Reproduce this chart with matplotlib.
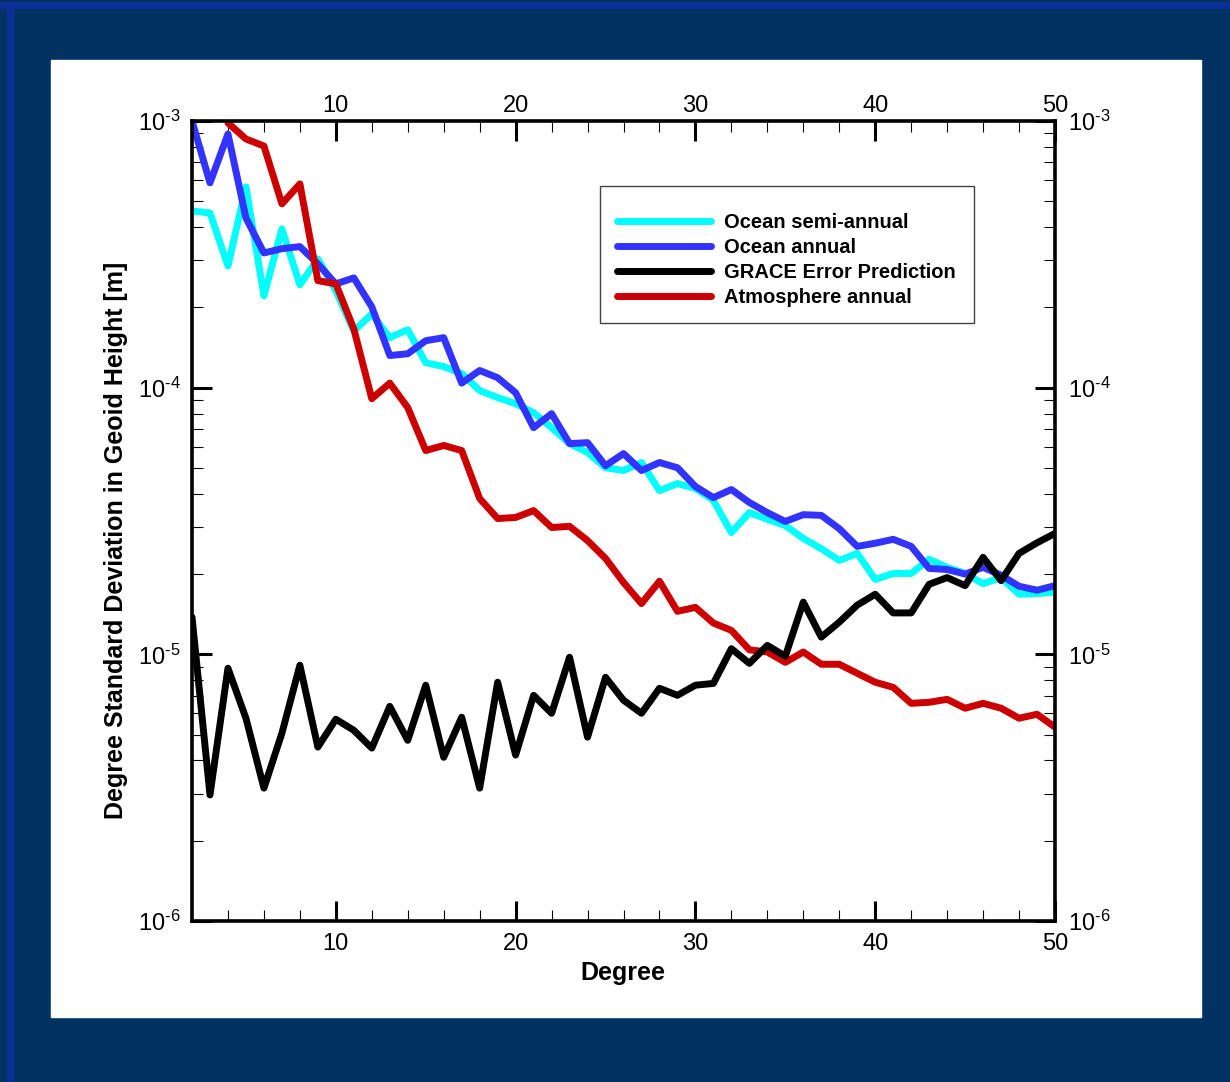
import numpy as np
import matplotlib.pyplot as plt
from matplotlib.patches import Rectangle
from matplotlib.ticker import MultipleLocator, FixedLocator, FuncFormatter, NullFormatter, NullLocator

plt.rcParams['font.family'] = ['Liberation Sans', 'DejaVu Sans']
plt.rcParams['mathtext.fontset'] = 'custom'
plt.rcParams['mathtext.rm'] = 'Liberation Sans'

# degree standard deviations in geoid height [m]
degree = list(range(2, 51))
ocean_semi = [4.60e-4, 4.52e-4, 2.86e-4, 5.66e-4, 2.21e-4, 3.94e-4, 2.43e-4, 3.04e-4, 2.31e-4,
              1.63e-4, 1.89e-4, 1.54e-4, 1.65e-4, 1.24e-4, 1.20e-4, 1.13e-4, 9.75e-5, 9.18e-5,
              8.71e-5, 8.06e-5, 7.08e-5, 6.17e-5, 5.71e-5, 5.01e-5, 4.89e-5, 5.24e-5, 4.11e-5,
              4.37e-5, 4.19e-5, 3.78e-5, 2.86e-5, 3.40e-5, 3.21e-5, 3.04e-5, 2.72e-5, 2.49e-5,
              2.25e-5, 2.39e-5, 1.91e-5, 2.01e-5, 2.01e-5, 2.27e-5, 2.12e-5, 2.01e-5, 1.84e-5,
              1.94e-5, 1.68e-5, 1.69e-5, 1.71e-5]
ocean_annual = [1.00e-3, 5.86e-4, 8.94e-4, 4.33e-4, 3.20e-4, 3.32e-4, 3.38e-4, 2.91e-4, 2.45e-4,
                2.58e-4, 2.01e-4, 1.32e-4, 1.34e-4, 1.50e-4, 1.54e-4, 1.04e-4, 1.16e-4, 1.09e-4,
                9.57e-5, 7.08e-5, 7.99e-5, 6.17e-5, 6.22e-5, 5.10e-5, 5.66e-5, 4.89e-5, 5.24e-5,
                5.01e-5, 4.26e-5, 3.87e-5, 4.15e-5, 3.71e-5, 3.40e-5, 3.15e-5, 3.34e-5, 3.32e-5,
                2.96e-5, 2.54e-5, 2.61e-5, 2.70e-5, 2.54e-5, 2.10e-5, 2.08e-5, 2.00e-5, 2.12e-5,
                1.98e-5, 1.80e-5, 1.74e-5, 1.81e-5]
grace_error = [1.38e-5, 2.97e-6, 8.87e-6, 5.76e-6, 3.15e-6, 5.06e-6, 9.10e-6, 4.49e-6, 5.71e-6,
               5.19e-6, 4.45e-6, 6.38e-6, 4.76e-6, 7.66e-6, 4.11e-6, 5.81e-6, 3.15e-6, 7.86e-6,
               4.19e-6, 7.02e-6, 6.01e-6, 9.75e-6, 4.89e-6, 8.20e-6, 6.73e-6, 6.01e-6, 7.46e-6,
               7.02e-6, 7.66e-6, 7.78e-6, 1.05e-5, 9.25e-6, 1.08e-5, 9.84e-6, 1.57e-5, 1.16e-5,
               1.32e-5, 1.53e-5, 1.68e-5, 1.43e-5, 1.43e-5, 1.83e-5, 1.94e-5, 1.81e-5, 2.31e-5,
               1.89e-5, 2.39e-5, 2.62e-5, 2.84e-5]
atmos_degree = list(range(4, 51))
atmos_annual = [9.83e-4, 8.56e-4, 8.06e-4, 4.89e-4, 5.81e-4, 2.52e-4, 2.45e-4, 1.66e-4, 9.09e-5,
                1.04e-4, 8.42e-5, 5.81e-5, 6.07e-5, 5.81e-5, 3.84e-5, 3.23e-5, 3.26e-5, 3.46e-5,
                2.99e-5, 3.02e-5, 2.67e-5, 2.29e-5, 1.86e-5, 1.55e-5, 1.88e-5, 1.45e-5, 1.50e-5,
                1.31e-5, 1.23e-5, 1.04e-5, 1.02e-5, 9.33e-6, 1.02e-5, 9.18e-6, 9.18e-6, 8.49e-6,
                7.86e-6, 7.52e-6, 6.55e-6, 6.61e-6, 6.78e-6, 6.28e-6, 6.55e-6, 6.28e-6, 5.76e-6,
                5.96e-6, 5.33e-6]

x_ticks = [10, 20, 30, 40, 50]
y_ticks = [1e-6, 1e-5, 1e-4, 1e-3]
y_minor = [m * 10.0**e for e in range(-6, -3) for m in range(2, 10)]

def pow_label(v, pos):
    # hyphen rather than a minus sign, as in the original
    return r'$\mathdefault{10^{\text{-%d}}}$' % round(-np.log10(v))

W, H = 1230, 1082
fig = plt.figure(figsize=(W / 100, H / 100), dpi=100, facecolor='#013262')

# frame: bright strips on top / left, white panel
fig.add_artist(Rectangle((0, 1 - 7.5 / H), 1, 5.5 / H, transform=fig.transFigure,
                         color='#0a2f96', zorder=-2))
fig.add_artist(Rectangle((7 / W, 0), 6 / W, 1 - 2 / H, transform=fig.transFigure,
                         color='#0a2f96', zorder=-2))
fig.add_artist(Rectangle((51 / W, 1 - 1017 / H), 1150 / W, 957 / H, transform=fig.transFigure,
                         color='white', zorder=-1))

ax = fig.add_axes([192 / W, 1 - 921 / H, 863 / W, 800 / H])

lw = 5
l_semi, = ax.plot(degree, ocean_semi, color='#00ffff', lw=lw, solid_capstyle='round')
l_ann, = ax.plot(degree, ocean_annual, color='#3333ff', lw=lw, solid_capstyle='round')
l_atm, = ax.plot(atmos_degree, atmos_annual, color='#cc0000', lw=lw, solid_capstyle='round')
l_grace, = ax.plot(degree, grace_error, color='black', lw=lw, solid_capstyle='round')

ax.set_yscale('log')
ax.set_xlim(2, 50)
ax.set_ylim(1e-6, 1e-3)
ax.set_xticks(x_ticks)
ax.xaxis.set_minor_locator(MultipleLocator(2))
ax.yaxis.set_major_locator(FixedLocator(y_ticks))
ax.yaxis.set_minor_locator(FixedLocator(y_minor))
ax.yaxis.set_major_formatter(FuncFormatter(pow_label))
ax.yaxis.set_minor_formatter(NullFormatter())

for s in ax.spines.values():
    s.set_linewidth(2.6)
ax.tick_params(which='major', direction='in', length=14.5, width=2.2,
               top=True, right=True, labelsize=17)
ax.tick_params(axis='x', which='major', pad=9)
ax.tick_params(axis='y', which='major', pad=8)
ax.tick_params(which='minor', direction='in', length=8, width=0.8, top=True, right=True)

# labels on top and right with their own padding
secx = ax.secondary_xaxis('top')
secx.set_xticks(x_ticks)
secx.xaxis.set_minor_locator(NullLocator())
secx.tick_params(which='both', length=0, labelsize=17, pad=3)
secx.spines['top'].set_visible(False)
secy = ax.secondary_yaxis('right')
secy.yaxis.set_major_locator(FixedLocator(y_ticks))
secy.yaxis.set_major_formatter(FuncFormatter(pow_label))
secy.yaxis.set_minor_locator(NullLocator())
secy.tick_params(which='both', length=0, labelsize=17, pad=9)
secy.spines['right'].set_visible(False)

fig.text(623 / W, 1 - 973 / H, 'Degree', ha='center', va='center',
         fontsize=18, fontweight='bold')
fig.text(116 / W, 1 - 540 / H, 'Degree Standard Deviation in Geoid Height [m]',
         ha='center', va='center', rotation=90, fontsize=18, fontweight='bold')

# legend box
ax.add_patch(Rectangle((0.4728, 0.7475), 0.4334, 0.1713, transform=ax.transAxes,
                       facecolor='white', edgecolor='#444444', lw=1, zorder=4))
ax.legend(handles=[l_semi, l_ann, l_grace, l_atm],
          labels=['Ocean semi-annual', 'Ocean annual', 'GRACE Error Prediction',
                  'Atmosphere annual'],
          loc='center left', bbox_to_anchor=(0.492, 0.826), frameon=False,
          borderpad=0, borderaxespad=0, handlelength=4.7, handletextpad=0.62,
          labelspacing=0.3, prop={'weight': 'bold', 'size': 14.5})

fig.savefig('out.png', dpi=100, facecolor=fig.get_facecolor())
